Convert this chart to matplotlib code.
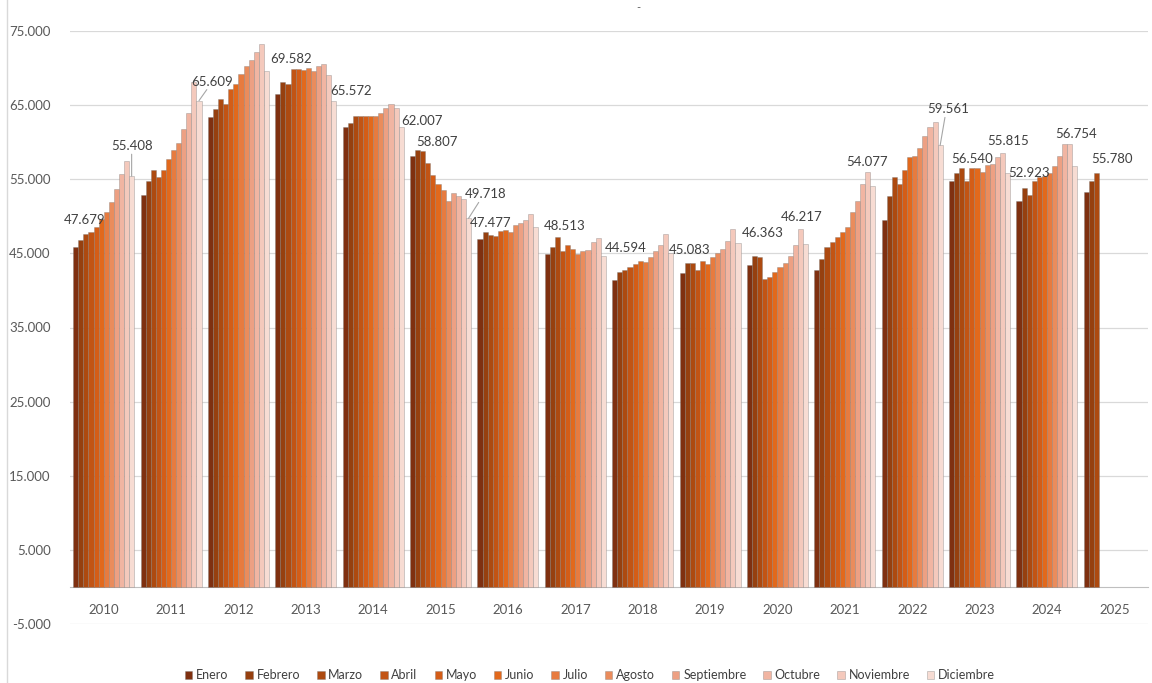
import matplotlib
matplotlib.use("Agg")
import matplotlib.pyplot as plt
from matplotlib.lines import Line2D
import numpy as np

plt.rcParams['font.family'] = ['Lato', 'DejaVu Sans']

years = [str(y) for y in range(2010, 2026)]
months = ['Enero', 'Febrero', 'Marzo', 'Abril', 'Mayo', 'Junio', 'Julio',
          'Agosto', 'Septiembre', 'Octubre', 'Noviembre', 'Diciembre']

# values in thousands
v2010 = [45.9, 46.8, 47.679, 47.9, 48.5, 49.7, 50.6, 51.9, 53.7, 55.7, 57.5, 55.408]
v2011 = [52.9, 54.7, 56.3, 55.3, 56.2, 57.7, 59.0, 59.9, 61.8, 64.0, 68.1, 65.609]
v2012 = [63.4, 64.5, 65.8, 65.1, 67.2, 67.9, 69.2, 70.3, 71.1, 72.1, 73.3, 69.582]
v2013 = [66.5, 68.1, 67.8, 69.9, 69.9, 69.8, 70.0, 69.6, 70.3, 70.6, 69.0, 65.572]
v2014 = [62.0, 62.6, 63.5, 63.5, 63.5, 63.6, 63.6, 64.0, 64.6, 65.1, 64.6, 62.007]
v2015 = [58.1, 58.9, 58.807, 57.2, 55.6, 54.3, 53.6, 52.1, 53.1, 52.8, 52.4, 49.718]
v2016 = [47.0, 47.9, 47.477, 47.3, 48.0, 48.1, 47.9, 48.8, 49.1, 49.5, 50.3, 48.513]
v2017 = [44.9, 45.8, 47.2, 45.3, 46.1, 45.6, 44.9, 45.3, 45.5, 46.5, 47.1, 44.594]
v2018 = [41.4, 42.5, 42.7, 43.1, 43.6, 44.0, 43.8, 44.5, 45.3, 46.1, 47.6, 45.083]
v2019 = [42.3, 43.7, 43.7, 42.8, 44.0, 43.5, 44.5, 45.0, 45.6, 46.7, 48.3, 46.363]
v2020 = [43.4, 44.7, 44.5, 41.6, 41.8, 42.5, 43.1, 43.7, 44.7, 46.1, 48.3, 46.217]
v2021 = [42.8, 44.3, 45.8, 46.5, 47.2, 47.9, 48.5, 50.6, 52.1, 54.4, 56.0, 54.077]
v2022 = [49.5, 52.7, 55.3, 54.3, 56.3, 58.0, 58.1, 59.2, 60.9, 62.0, 62.7, 59.561]
v2023 = [54.8, 55.8, 56.540, 54.8, 56.5, 56.5, 56.0, 56.9, 57.0, 58.0, 58.5, 55.815]
v2024 = [52.0, 53.8, 52.923, 54.8, 55.3, 55.5, 55.9, 56.8, 58.2, 59.8, 59.8, 56.754]
v2025 = [53.3, 54.8, 55.780]

series = [v2010, v2011, v2012, v2013, v2014, v2015, v2016, v2017, v2018,
          v2019, v2020, v2021, v2022, v2023, v2024, v2025]

# data labels: (year index, month index, dx px, dy px, leader line)
lbl_year = [0, 0, 1, 2, 3, 4, 5, 5, 6, 6, 7, 8, 9, 10, 11, 12, 13, 13, 14, 14, 15]
lbl_month = [2, 11, 11, 11, 11, 11, 2, 11, 2, 11, 11, 11, 11, 11, 11, 11, 2, 11, 2, 11, 2]
lbl_dx = [-1, 0, 13, 25, 17, 21, 14, 17, 0, 29, 23, 19, 25, -4, -6, 8, 10, 1, 0, 1, 15]
lbl_dy = [14, 30, 19, 12, 10, 6, 9, 24, 12, 1, 8, 3, 10, 27, 24, 36, 9, 32, 22, 32, 14]
lbl_leader = [False, True, True, False, False, False, False, True, False, False, False,
              False, False, False, False, True, False, False, False, False, False]

colors = ['#7f3010', '#96400f', '#ad4a10', '#c25414', '#d45d17', '#e2691c',
          '#e77b3f', '#ea8c5c', '#eda083', '#f1b5a2', '#f4c9bc', '#f7dcd3']

W, H = 1152, 683
fig = plt.figure(figsize=(W / 100, H / 100), dpi=100)
ax = fig.add_axes([70 / W, 1 - 624 / H, (1148 - 70) / W, (624 - 31) / H])

group_w = 0.905
bw = group_w / 12
x = np.arange(len(years))

for m in range(12):
    xs, hs = [], []
    for i, vals in enumerate(series):
        if m < len(vals):
            xs.append(x[i] - group_w / 2 + (m + 0.5) * bw)
            hs.append(vals[m] * 1000)
    ax.bar(xs, hs, width=bw, color=colors[m], edgecolor=(0.45, 0.45, 0.45, 0.45),
           linewidth=0.5, label=months[m], zorder=3)

for yi, mi, dx, dy, lead in zip(lbl_year, lbl_month, lbl_dx, lbl_dy, lbl_leader):
    val = series[yi][mi]
    bx = x[yi] - group_w / 2 + (mi + 0.5) * bw
    txt = f"{val * 1000:,.0f}".replace(',', '.')
    ax.annotate(txt, xy=(bx, val * 1000), xytext=(dx, dy), textcoords='offset pixels',
                ha='center', va='center', fontsize=9.5, color='#404040', zorder=5)
    if lead:
        ax.annotate('', xy=(bx, val * 1000), xytext=(dx * 0.6, dy - 8),
                    textcoords='offset pixels',
                    arrowprops=dict(arrowstyle='-', color='#a6a6a6', lw=0.8,
                                    shrinkA=0, shrinkB=0), zorder=4)

ax.set_xlim(-0.5, len(years) - 0.5)
ax.set_ylim(-5000, 75000)
yt = np.arange(-5000, 75001, 10000)
ax.set_yticks(yt)
ax.set_yticklabels([f"{t:,.0f}".replace(',', '.') for t in yt])
ax.grid(axis='y', color='#d9d9d9', linewidth=0.9, zorder=0)
ax.set_xticks(x)
ax.set_xticklabels(years)
ax.spines['bottom'].set_position(('data', 0))
ax.spines['bottom'].set_color('#bfbfbf')
for s in ['top', 'right', 'left']:
    ax.spines[s].set_visible(False)
ax.tick_params(axis='both', length=0, labelsize=9.5, colors='#595959')
ax.tick_params(axis='x', pad=12)
ax.tick_params(axis='y', pad=14)

leg = fig.legend(loc='center', bbox_to_anchor=(590 / W, 1 - 675 / H), ncol=12,
                 frameon=False, fontsize=9, handlelength=0.6, handleheight=0.6,
                 handletextpad=0.3, columnspacing=1.35)
for t in leg.get_texts():
    t.set_color('#404040')

fig.add_artist(Line2D([7 / W, 7 / W], [0, 1], color='#d9d9d9', lw=1))
fig.text(638 / W, 1 - 8 / H, '-', ha='center', va='center', fontsize=8, color='#595959')

fig.savefig('out.png', dpi=100)
